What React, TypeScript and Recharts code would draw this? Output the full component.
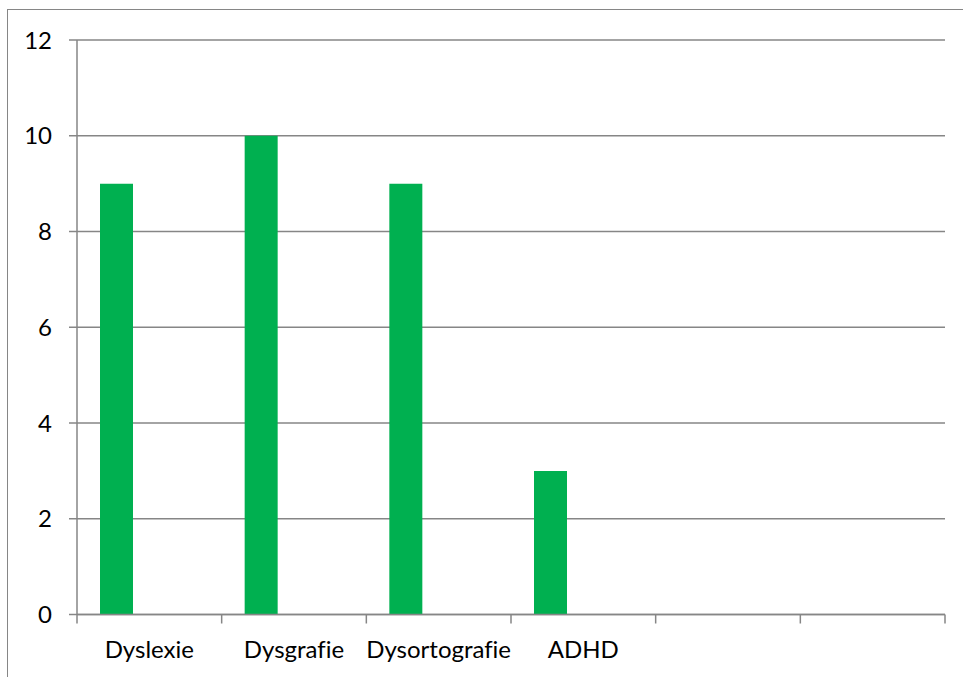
import React from "react";
import { BarChart, Bar, XAxis, YAxis, CartesianGrid } from "recharts";

// Category names along the x axis (the last two slots are left empty)
const categories = ["Dyslexie", "Dysgrafie", "Dysortografie", "ADHD", "", ""];
// Counts per category for the visible series
const seriesA = [9, 10, 9, 3, null, null];
// Two further series with no values, which keep the bar slots
const seriesB = [null, null, null, null, null, null];
const seriesC = [null, null, null, null, null, null];
const yTicks = [0, 2, 4, 6, 8, 10, 12];

const data = categories.map((name, i) => ({
  name,
  a: seriesA[i],
  b: seriesB[i],
  c: seriesC[i],
}));

const FONT = "Lato, 'Open Sans', sans-serif";
const AXIS = "#868686";
const FONT_SIZE = 24;
const X_TICK_SIZE = 9;
const X_TICK_MARGIN = 17;
const CHART_W = 963;
const MARGIN_RIGHT = 18;
const Y_AXIS_W = 77;

// Category tick: label in the middle of the band, tick marks on the band edges
function CategoryTick(props: any) {
  const { x, y, payload, index, visibleTicksCount } = props;
  const half =
    payload && typeof payload.offset === "number" && payload.offset > 0
      ? payload.offset
      : (CHART_W - MARGIN_RIGHT - Y_AXIS_W) / categories.length / 2;
  const axisY = y - X_TICK_SIZE - X_TICK_MARGIN;
  const count = visibleTicksCount ?? categories.length;
  return (
    <g>
      <line
        x1={x - half}
        x2={x - half}
        y1={axisY}
        y2={axisY + X_TICK_SIZE}
        stroke={AXIS}
        strokeWidth={1.5}
      />
      {index === count - 1 && (
        <line
          x1={x + half}
          x2={x + half}
          y1={axisY}
          y2={axisY + X_TICK_SIZE}
          stroke={AXIS}
          strokeWidth={1.5}
        />
      )}
      <text
        x={x}
        y={y}
        dy="0.71em"
        textAnchor="middle"
        fill="#000"
        fontSize={FONT_SIZE}
        fontFamily={FONT}
        style={{ fontVariantLigatures: "none" }}
      >
        {payload.value}
      </text>
    </g>
  );
}

export default function App() {
  return (
    <div
      style={{
        position: "absolute",
        left: 0,
        top: 0,
        width: 963,
        height: 677,
        overflow: "hidden",
        background: "#fff",
      }}
    >
      <div
        style={{
          position: "absolute",
          left: 7,
          top: 9,
          width: 1000,
          height: 700,
          border: "1.5px solid #868686",
          boxSizing: "border-box",
        }}
      />
      <div style={{ position: "absolute", left: 0, top: 0 }}>
        <BarChart
          width={CHART_W}
          height={677}
          data={data}
          margin={{ top: 40, right: MARGIN_RIGHT, left: 0, bottom: 0 }}
          barCategoryGap={23}
          barGap={0}
        >
          <CartesianGrid vertical={false} stroke={AXIS} strokeWidth={1.5} />
          <XAxis
            dataKey="name"
            height={62.5}
            interval={0}
            tickSize={X_TICK_SIZE}
            tickMargin={X_TICK_MARGIN}
            axisLine={{ stroke: AXIS, strokeWidth: 1.5 }}
            tickLine={false}
            tick={<CategoryTick />}
          />
          <YAxis
            domain={[0, 12]}
            ticks={yTicks}
            width={Y_AXIS_W}
            tickSize={8}
            tickMargin={17}
            interval={0}
            axisLine={{ stroke: AXIS, strokeWidth: 1.5 }}
            tickLine={{ stroke: AXIS, strokeWidth: 1.5 }}
            tick={{ fill: "#000", fontSize: FONT_SIZE, fontFamily: FONT }}
          />
          <Bar dataKey="a" fill="#00b050" isAnimationActive={false} />
          <Bar dataKey="b" fill="#c0504d" isAnimationActive={false} />
          <Bar dataKey="c" fill="#9bbb59" isAnimationActive={false} />
        </BarChart>
      </div>
    </div>
  );
}
